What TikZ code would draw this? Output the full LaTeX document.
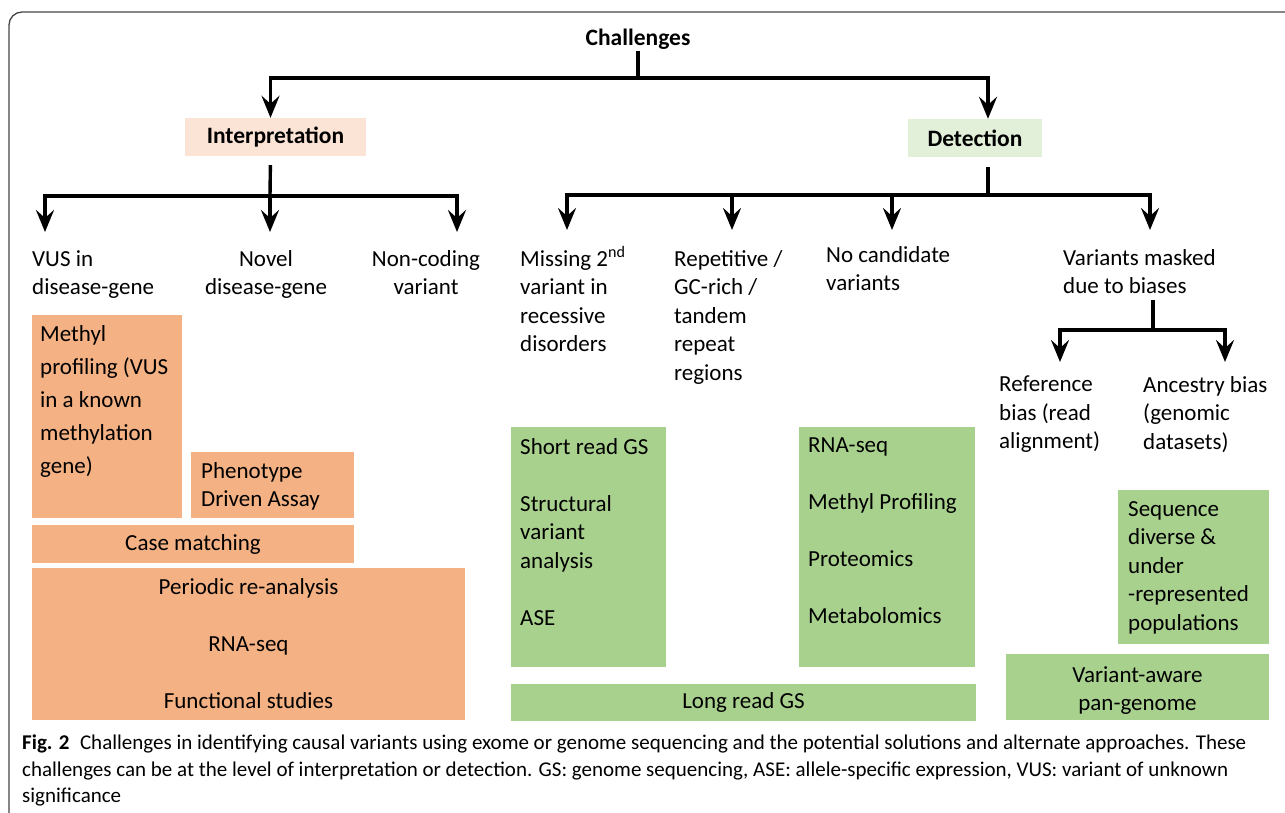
\documentclass[tikz,border=0pt]{standalone}
\usepackage{fontspec}
\setmainfont{Carlito}
\usetikzlibrary{arrows.meta}
\definecolor{peachL}{RGB}{251,228,213}
\definecolor{greenL}{RGB}{226,239,217}
\definecolor{orng}{RGB}{244,177,131}
\definecolor{grn}{RGB}{169,209,142}
\definecolor{framec}{RGB}{70,70,70}
\begin{document}
\begin{tikzpicture}[x=1pt,y=-1pt,
  conn/.style={line width=3.4pt, draw=black, line join=miter},
  arr/.style={conn, -{Stealth[length=22pt,width=18pt,inset=8pt]}},
  txt/.style={inner sep=0pt, anchor=north west, align=left, font=\fontsize{23}{28.5}\selectfont, execute at begin node=\strut},
  ctxt/.style={txt, anchor=north, align=center},
  head/.style={inner sep=0pt, font=\bfseries\fontsize{23.5}{28}\selectfont},
  obox/.style={fill=orng, inner sep=0pt, align=center, font=\fontsize{23}{28.5}\selectfont},
  gbox/.style={fill=grn, inner sep=0pt, align=center, font=\fontsize{23}{28.5}\selectfont}
]
\fill[white] (0,0) rectangle (1285,812);
\useasboundingbox (0,0) rectangle (1285,812);
\draw[framec, line width=1.3pt, rounded corners=13pt] (9,830) -- (9,12) -- (1300,12);

% headings
\node[head] (chal) at (638,39) {Challenges};
\node[head, fill=peachL, minimum width=181pt, minimum height=38pt] (intp) at (275.5,137) {Interpretation};
\node[head, fill=greenL, minimum width=134pt, minimum height=38pt] (det) at (975,138) {Detection};

% level-2 labels
\node[txt] (vus) at (32,250) {VUS in\\disease-gene};
\node[ctxt] (nov) at (266,250) {Novel\\disease-gene};
\node[ctxt] (nonc) at (426,250) {Non-coding\\variant};
\node[txt] (miss) at (520,250) {Missing 2\smash{\textsuperscript{nd}}\\variant in\\recessive\\disorders};
\node[txt] (rep) at (674,250) {Repetitive /\\GC-rich /\\tandem\\repeat\\regions};
\node[txt] (nocand) at (826,246) {No candidate\\variants};
\node[txt] (vm) at (1063,249) {Variants masked\\due to biases};
\node[txt] (refb) at (999,376) {Reference\\bias (read\\alignment)};
\node[txt] (anc) at (1143,376) {Ancestry bias\\(genomic\\datasets)};

% junctions
\coordinate (j0) at (638,78);
\coordinate (j1) at (270,196);
\coordinate (j2) at (988,195);
\coordinate (j3) at (1153,330);

\draw[conn] (chal.south) ++(0,2) -- (j0);
\draw[arr] (j0) -| ([xshift=-5pt]intp.north);
\draw[arr] (j0) -| ([xshift=13pt]det.north);

\draw[conn, shorten <=9pt] ([xshift=-5pt]intp.south) -- (j1);
\draw[arr] (j1) -| ([xshift=13pt,yshift=18pt]vus.north west);
\draw[arr] (j1) -- ([xshift=4pt,yshift=18pt]nov.north);
\draw[arr] (j1) -| ([xshift=31pt,yshift=18pt]nonc.north);

\draw[conn, shorten <=10pt] ([xshift=13pt]det.south) -- (j2);
\draw[arr] (j2) -| ([xshift=47pt,yshift=20pt]miss.north west);
\draw[arr] (j2) -| ([xshift=58pt,yshift=20pt]rep.north west);
\draw[arr] (j2) -| ([xshift=66pt,yshift=16pt]nocand.north west);
\draw[arr] (j2) -| ([xshift=87pt,yshift=19pt]vm.north west);

\draw[conn] (vm.south -| j3) ++(0,-2) -- (j3);
\draw[arr] (j3) -| ([xshift=61pt,yshift=14pt]refb.north west);
\draw[arr] (j3) -| ([xshift=82pt,yshift=14pt]anc.north west);

% orange solution boxes
\node[obox, minimum width=150pt, minimum height=203pt] (meth) at (107,416.5) {};
\node[txt, font=\fontsize{23}{33}\selectfont] (metht) at (40,325) {Methyl\\profiling (VUS\\in a known\\methylation\\gene)};
\node[obox, minimum width=163pt, minimum height=66pt] (phen) at (272.5,485) {};
\node[txt] (phent) at (201,462) {Phenotype\\Driven Assay};
\node[obox, minimum width=322pt, minimum height=38pt] (casem) at (193,544) {Case matching};
\node[obox, minimum width=433pt, minimum height=152pt, font=\fontsize{23}{57}\selectfont] (peri) at (248.5,644) {Periodic re-analysis\\RNA-seq\\Functional studies};

% green solution boxes
\node[gbox, minimum width=155pt, minimum height=240pt] (gl) at (588.5,547) {};
\node[txt] (glt) at (520,438) {Short read GS\\[28.5pt]Structural\\variant\\analysis\\[28.5pt]ASE};
\node[gbox, minimum width=176pt, minimum height=240pt] (gr) at (887,547) {};
\node[txt] (grt) at (808,438) {RNA-seq\\[28.5pt]Methyl Profiling\\[28.5pt]Proteomics\\[28.5pt]Metabolomics};
\node[gbox, minimum width=465pt, minimum height=37pt] (lr) at (743.5,702) {Long read GS};
\node[gbox, minimum width=151pt, minimum height=154pt] (seq) at (1193.5,567) {};
\node[txt] (seqt) at (1128,501) {Sequence\\diverse \&\\under\\-represented\\populations};
\node[gbox, minimum width=263pt, minimum height=66pt] (pan) at (1137.5,687) {};
\node[ctxt] (pant) at (1137.5,666) {Variant-aware\\pan-genome};

% caption
\node[txt, font=\fontsize{21}{26.5}\selectfont] (cap) at (22,735) {\textbf{Fig. 2}\enspace Challenges in identifying causal variants using exome or genome sequencing and the potential solutions and alternate approaches. These\\challenges can be at the level of interpretation or detection. GS: genome sequencing, ASE: allele-specific expression, VUS: variant of unknown\\significance};
\end{tikzpicture}
\end{document}
